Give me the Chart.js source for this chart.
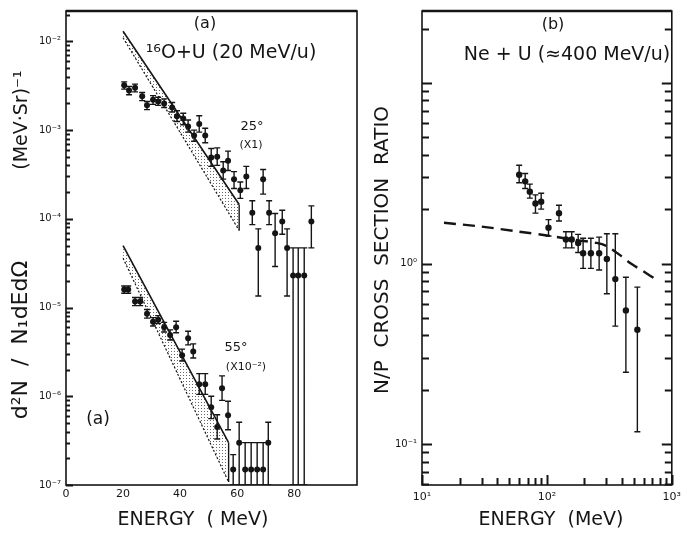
<!DOCTYPE html>
<html>
<head>
<meta charset="utf-8">
<script src="https://cdn.jsdelivr.net/npm/chart.js@4.4.0/dist/chart.umd.min.js"></script>
<style>
    body { margin: 0; background: #fff; }
    #caixa { position: relative; width: 687px; height: 535px; }
    #graficoA { position: absolute; left: 0; top: 0; }
    #graficoB { position: absolute; left: 365px; top: 0; }
</style>
</head>
<body>
<div id="caixa">
    <canvas id="graficoA" width="365" height="535"></canvas>
    <canvas id="graficoB" width="322" height="535"></canvas>
</div>
<script>
// ---------- painel (a): 16O+U (20 MeV/u) ----------
// 25 graus (x1)
const energia25 = [20.4, 22.1, 24.2, 26.7, 28.4, 30.5, 32.3, 34.4, 37.2, 38.9, 41.1, 42.8, 44.9, 46.7, 48.8, 50.9, 53.0, 55.1, 56.8, 58.9, 61.1, 63.2, 65.3, 67.4, 69.1, 71.2, 73.3, 75.8, 77.5, 79.6, 81.4, 83.5, 86.0];
const valor25 = [3.2e-3, 2.8e-3, 3.0e-3, 2.4e-3, 1.9e-3, 2.2e-3, 2.1e-3, 2.0e-3, 1.8e-3, 1.43e-3, 1.35e-3, 1.1e-3, 8.7e-4, 1.17e-3, 8.7e-4, 4.9e-4, 5.0e-4, 3.5e-4, 4.5e-4, 2.8e-4, 2.1e-4, 3.0e-4, 1.17e-4, 4.7e-5, 2.8e-4, 1.17e-4, 6.9e-5, 9.3e-5, 4.7e-5, 2.3e-5, 2.3e-5, 2.3e-5, 9.3e-5];
const alto25 = [3.5e-3, 3.1e-3, 3.3e-3, 2.65e-3, 2.1e-3, 2.45e-3, 2.35e-3, 2.25e-3, 2.05e-3, 1.65e-3, 1.55e-3, 1.3e-3, 1.0e-3, 1.45e-3, 1.05e-3, 6.2e-4, 6.3e-4, 4.4e-4, 5.8e-4, 3.4e-4, 2.6e-4, 3.9e-4, 1.6e-4, 7.7e-5, 3.6e-4, 1.6e-4, 1.15e-4, 1.25e-4, 7.7e-5, 4.7e-5, 4.7e-5, 4.7e-5, 1.4e-4];
const baixo25 = [2.9e-3, 2.5e-3, 2.7e-3, 2.15e-3, 1.7e-3, 1.95e-3, 1.9e-3, 1.8e-3, 1.6e-3, 1.25e-3, 1.15e-3, 9.5e-4, 7.5e-4, 9.5e-4, 7.2e-4, 3.9e-4, 4.0e-4, 2.8e-4, 3.5e-4, 2.2e-4, 1.7e-4, 2.2e-4, 8.6e-5, 1.35e-5, 1.9e-4, 8.6e-5, 2.9e-5, 6.7e-5, 1.35e-5, 1e-7, 1e-7, 1e-7, 4.7e-5];
// 55 graus (x10^-2)
const energia55 = [20.4, 21.8, 24.2, 26.0, 28.4, 30.5, 32.3, 34.4, 36.5, 38.6, 40.7, 42.8, 44.6, 46.7, 48.8, 50.9, 53.0, 54.7, 56.8, 58.6, 60.7, 62.8, 64.9, 67.0, 69.1, 70.9];
const valor55 = [1.6e-5, 1.6e-5, 1.17e-5, 1.17e-5, 8.5e-6, 6.9e-6, 7.3e-6, 6.0e-6, 4.9e-6, 6.0e-6, 2.9e-6, 4.5e-6, 3.2e-6, 1.37e-6, 1.37e-6, 7.5e-7, 4.5e-7, 1.23e-6, 6.1e-7, 1.5e-7, 3.0e-7, 1.5e-7, 1.5e-7, 1.5e-7, 1.5e-7, 3.0e-7];
const alto55 = [1.75e-5, 1.75e-5, 1.3e-5, 1.3e-5, 9.5e-6, 7.7e-6, 8.1e-6, 6.8e-6, 5.6e-6, 7.0e-6, 3.4e-6, 5.4e-6, 3.9e-6, 1.8e-6, 1.8e-6, 1.0e-6, 6.2e-7, 1.7e-6, 8.8e-7, 2.2e-7, 5.1e-7, 3.0e-7, 3.0e-7, 3.0e-7, 3.0e-7, 5.1e-7];
const baixo55 = [1.45e-5, 1.45e-5, 1.05e-5, 1.05e-5, 7.6e-6, 6.2e-6, 6.6e-6, 5.3e-6, 4.3e-6, 5.2e-6, 2.5e-6, 3.8e-6, 2.7e-6, 1.05e-6, 1.05e-6, 5.6e-7, 3.3e-7, 9.0e-7, 4.2e-7, 1e-7, 1e-7, 1e-7, 1e-7, 1e-7, 1e-7, 1e-7];
// faixas teoricas (hachuradas)
const faixaEnergia25 = [20, 60.7];
const faixaSup25 = [1.3e-2, 1.45e-4];
const faixaInf25 = [1.1e-2, 7.4e-5];
const faixaEnergia55 = [20, 57];
const faixaSup55 = [5.0e-5, 3.0e-7];
const faixaInf55 = [3.6e-5, 1.08e-7];
// eixos
const ticksXA = [0, 20, 40, 60, 80];
const rotulosXA = ['0', '20', '40', '60', '80'];
const ticksYA = [1e-7, 1e-6, 1e-5, 1e-4, 1e-3, 1e-2];
const rotulosYA = ['10⁻⁷', '10⁻⁶', '10⁻⁵', '10⁻⁴', '10⁻³', '10⁻²'];

// ---------- painel (b): Ne+U (~400 MeV/u) ----------
const energiaB = [60, 67, 73, 81, 90, 103, 125, 142, 158, 178, 195, 225, 262, 302, 353, 429, 530];
const razaoB = [3.1, 2.85, 2.5, 2.15, 2.2, 1.58, 1.9, 1.36, 1.36, 1.3, 1.14, 1.14, 1.14, 1.06, 0.82, 0.55, 0.43];
const altoB = [3.5, 3.15, 2.75, 2.4, 2.45, 1.75, 2.1, 1.5, 1.5, 1.45, 1.38, 1.38, 1.40, 1.46, 1.46, 0.84, 0.74];
const baixoB = [2.8, 2.6, 2.3, 1.9, 2.0, 1.42, 1.72, 1.22, 1.22, 1.15, 0.94, 0.94, 0.92, 0.68, 0.45, 0.25, 0.117];
const curvaEnergia = [15, 30, 60, 100, 170, 250, 300, 380, 470, 600, 760];
const curvaRazao = [1.68, 1.6, 1.5, 1.43, 1.35, 1.3, 1.25, 1.12, 1.0, 0.9, 0.81];
const ticksXB = [10, 100, 1000];
const rotulosXB = ['10¹', '10²', '10³'];
const ticksYB = [0.1, 1];
const rotulosYB = ['10⁻¹', '10⁰'];

const fonte = '"DejaVu Sans", sans-serif';
const tinta = '#151515';

function pares(xs, ys) {
    return xs.map(function (x, i) { return { x: x, y: ys[i] }; });
}

// padrao pontilhado para as faixas
function pontilhado() {
    const c = document.createElement('canvas');
    c.width = 3; c.height = 3;
    const g = c.getContext('2d');
    g.fillStyle = 'rgba(0,0,0,0.6)';
    g.fillRect(0, 0, 1, 1);
    return g.createPattern(c, 'repeat');
}

// barras de erro desenhadas pelas escalas do grafico
const barrasErro = {
    id: 'barrasErro',
    afterDatasetsDraw(chart) {
        const ctx = chart.ctx;
        const sx = chart.scales.x, sy = chart.scales.y;
        const a = chart.chartArea;
        ctx.save();
        ctx.beginPath();
        ctx.rect(a.left, a.top, a.right - a.left, a.bottom - a.top);
        ctx.clip();
        ctx.strokeStyle = tinta;
        ctx.lineWidth = 1.4;
        ctx.beginPath();
        chart.data.datasets.forEach(function (ds) {
            if (!ds.alto) return;
            ds.data.forEach(function (p, j) {
                const px = sx.getPixelForValue(p.x);
                const yt = sy.getPixelForValue(ds.alto[j]);
                const yb = sy.getPixelForValue(ds.baixo[j]);
                ctx.moveTo(px, yt); ctx.lineTo(px, yb);
                ctx.moveTo(px - 3, yt); ctx.lineTo(px + 3, yt);
                ctx.moveTo(px - 3, yb); ctx.lineTo(px + 3, yb);
            });
        });
        ctx.stroke();
        ctx.restore();
    }
};

// tracinhos de escala log (1..9 por decada)
function tracosLog(min, max) {
    const lista = [];
    for (let e = Math.floor(Math.log10(min)); e <= Math.ceil(Math.log10(max)); e++) {
        for (let k = 1; k <= 9; k++) {
            const v = k * Math.pow(10, e);
            if (v >= min * 0.999 && v <= max) lista.push({ v: v, maior: k === 1 });
        }
    }
    return lista;
}

const moldura = {
    id: 'moldura',
    afterDraw(chart, args, opts) {
        const ctx = chart.ctx;
        const a = chart.chartArea;
        const maior = opts.maior || 8;
        const menor = opts.menor || 5;
        ctx.save();
        ctx.strokeStyle = tinta;
        ctx.lineWidth = 1.6;
        ctx.strokeRect(a.left, a.top, a.right - a.left, a.bottom - a.top);
        ctx.lineWidth = 2.4;
        ctx.beginPath();
        ctx.moveTo(a.left, a.top); ctx.lineTo(a.right, a.top);
        ctx.stroke();
        const sy = chart.scales.y;
        tracosLog(sy.min, sy.max).forEach(function (t) {
            const py = Math.round(sy.getPixelForValue(t.v)) + 0.5;
            const len = t.maior ? maior : menor;
            ctx.lineWidth = 2;
            ctx.beginPath();
            ctx.moveTo(a.left, py); ctx.lineTo(a.left + len, py);
            if (opts.direita) { ctx.moveTo(a.right, py); ctx.lineTo(a.right - len, py); }
            ctx.stroke();
        });
        if (opts.logX) {
            const sx = chart.scales.x;
            tracosLog(sx.min, sx.max).forEach(function (t) {
                const px = Math.round(sx.getPixelForValue(t.v)) + 0.5;
                const len = t.maior ? maior : menor;
                ctx.lineWidth = 2;
                ctx.beginPath();
                ctx.moveTo(px, a.bottom); ctx.lineTo(px, a.bottom - len);
                ctx.stroke();
            });
        }
        ctx.restore();
    }
};

// textos soltos (titulos, rotulos das curvas)
const textos = {
    id: 'textos',
    afterDraw(chart, args, opts) {
        const ctx = chart.ctx;
        (opts.lista || []).forEach(function (t) {
            ctx.save();
            ctx.fillStyle = tinta;
            ctx.textAlign = 'center';
            ctx.textBaseline = 'middle';
            ctx.font = t.tam + 'px ' + fonte;
            ctx.translate(t.x, t.y);
            if (t.rot) ctx.rotate(t.rot * Math.PI / 180);
            ctx.fillText(t.texto, 0, 0);
            ctx.restore();
        });
    }
};

const padrao = pontilhado();

function eixoTicks(lista) {
    return function (s) { s.ticks = lista.map(function (v) { return { value: v }; }); };
}

// ---------- grafico A ----------
new Chart(document.getElementById('graficoA'), {
    type: 'line',
    data: {
        datasets: [
            { data: pares(faixaEnergia25, faixaInf25), borderColor: tinta, borderWidth: 1.2, borderDash: [2, 2], pointRadius: 0, fill: false },
            { data: pares(faixaEnergia25, faixaSup25), borderColor: tinta, borderWidth: 1.6, pointRadius: 0, fill: '-1', backgroundColor: padrao },
            { data: [{ x: faixaEnergia25[1], y: faixaSup25[1] }, { x: faixaEnergia25[1], y: faixaInf25[1] }], borderColor: tinta, borderWidth: 1.4, pointRadius: 0 },
            { data: pares(faixaEnergia55, faixaInf55), borderColor: tinta, borderWidth: 1.2, borderDash: [2, 2], pointRadius: 0, fill: false },
            { data: pares(faixaEnergia55, faixaSup55), borderColor: tinta, borderWidth: 1.6, pointRadius: 0, fill: '-1', backgroundColor: padrao },
            { data: [{ x: faixaEnergia55[1], y: faixaSup55[1] }, { x: faixaEnergia55[1], y: faixaInf55[1] }], borderColor: tinta, borderWidth: 1.4, pointRadius: 0 },
            { data: pares(energia25, valor25), alto: alto25, baixo: baixo25, showLine: false, pointRadius: 3, pointBackgroundColor: tinta, pointBorderWidth: 0 },
            { data: pares(energia55, valor55), alto: alto55, baixo: baixo55, showLine: false, pointRadius: 3, pointBackgroundColor: tinta, pointBorderWidth: 0 }
        ]
    },
    options: {
        responsive: false,
        animation: false,
        layout: { padding: { top: 10, right: 8, left: 0, bottom: 0 } },
        plugins: {
            legend: { display: false },
            tooltip: { enabled: false },
            moldura: { direita: false, logX: false, maior: 7, menor: 4 },
            textos: {
                lista: [
                    { texto: '(a)', x: 205, y: 24, tam: 16 },
                    { texto: '¹⁶O+U (20 MeV/u)', x: 231, y: 53, tam: 19 },
                    { texto: '25°', x: 252, y: 127, tam: 13 },
                    { texto: '(X1)', x: 251, y: 145, tam: 11 },
                    { texto: '55°', x: 236, y: 348, tam: 13 },
                    { texto: '(X10⁻²)', x: 246, y: 367, tam: 11 },
                    { texto: '(a)', x: 98, y: 420, tam: 17 },
                    { texto: 'ENERGY  ( MeV)', x: 193, y: 520, tam: 19 },
                    { texto: '(MeV·Sr)⁻¹', x: 22, y: 120, tam: 19, rot: -90 },
                    { texto: 'd²N  /  N₁dEdΩ', x: 21, y: 340, tam: 22, rot: -90 }
                ]
            }
        },
        scales: {
            x: {
                type: 'linear', min: 0, max: 102,
                afterBuildTicks: eixoTicks(ticksXA),
                afterFit: function (s) { s.height = 50; },
                grid: { display: false, drawTicks: false },
                border: { display: false },
                ticks: { callback: function (v, i) { return rotulosXA[i]; }, autoSkip: false, maxRotation: 0, padding: 3, color: tinta, font: { size: 11, family: fonte } }
            },
            y: {
                type: 'logarithmic', min: 1e-7, max: 2.2e-2,
                afterBuildTicks: eixoTicks(ticksYA),
                afterFit: function (s) { s.width = 66; },
                grid: { display: false, drawTicks: false },
                border: { display: false },
                ticks: { callback: function (v, i) { return rotulosYA[i]; }, autoSkip: false, padding: 5, color: tinta, font: { size: 10, family: fonte } }
            }
        }
    },
    plugins: [moldura, barrasErro, textos]
});

// ---------- grafico B ----------
new Chart(document.getElementById('graficoB'), {
    type: 'line',
    data: {
        datasets: [
            { data: pares(curvaEnergia, curvaRazao), borderColor: tinta, borderWidth: 2.4, borderDash: [12, 7], pointRadius: 0, fill: false, tension: 0.3 },
            { data: pares(energiaB, razaoB), alto: altoB, baixo: baixoB, showLine: false, pointRadius: 3.2, pointBackgroundColor: tinta, pointBorderWidth: 0 }
        ]
    },
    options: {
        responsive: false,
        animation: false,
        layout: { padding: { top: 10, right: 4, left: 0, bottom: 0 } },
        plugins: {
            legend: { display: false },
            tooltip: { enabled: false },
            moldura: { direita: true, logX: true, maior: 10, menor: 7 },
            textos: {
                lista: [
                    { texto: '(b)', x: 188, y: 25, tam: 16 },
                    { texto: 'Ne + U (≈400 MeV/u)', x: 202, y: 55, tam: 19 },
                    { texto: 'ENERGY  (MeV)', x: 186, y: 520, tam: 19 },
                    { texto: 'N/P  CROSS  SECTION  RATIO', x: 18, y: 250, tam: 20, rot: -90 }
                ]
            }
        },
        scales: {
            x: {
                type: 'logarithmic', min: 10, max: 1000,
                afterBuildTicks: eixoTicks(ticksXB),
                afterFit: function (s) { s.height = 50; },
                grid: { display: false, drawTicks: false },
                border: { display: false },
                ticks: { callback: function (v, i) { return rotulosXB[i]; }, autoSkip: false, maxRotation: 0, padding: 6, color: tinta, font: { size: 11, family: fonte } }
            },
            y: {
                type: 'logarithmic', min: 0.0594, max: 25,
                afterBuildTicks: eixoTicks(ticksYB),
                afterFit: function (s) { s.width = 57; },
                grid: { display: false, drawTicks: false },
                border: { display: false },
                ticks: { callback: function (v, i) { return rotulosYB[i]; }, autoSkip: false, padding: 5, color: tinta, font: { size: 10, family: fonte } }
            }
        }
    },
    plugins: [moldura, barrasErro, textos]
});
</script>
</body>
</html>
